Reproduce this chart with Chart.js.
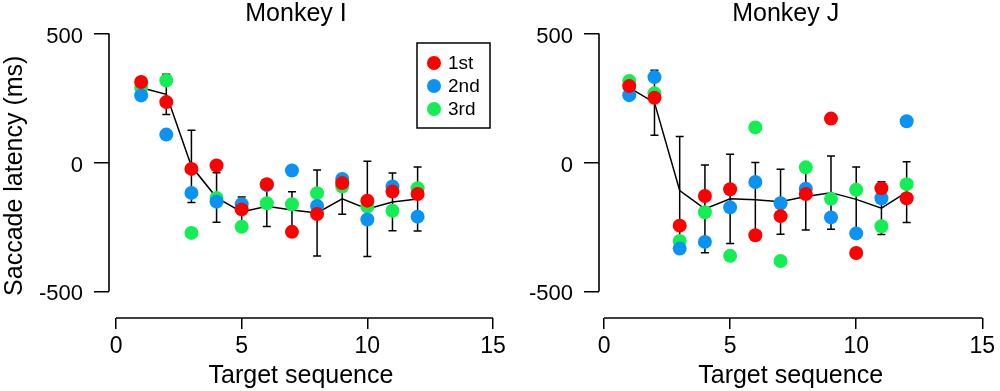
<!DOCTYPE html>
<html>
<head>
<meta charset="utf-8">
<script src="https://cdn.jsdelivr.net/npm/chart.js@4/dist/chart.umd.min.js"></script>
<style>
  html, body { margin: 0; padding: 0; background: #fff; }
  .panel { position: absolute; top: 0; height: 391px; }
</style>
</head>
<body>
<div class="panel" style="left:0;width:540px"><canvas id="cI" width="540" height="391"></canvas></div>
<div class="panel" style="left:500px;width:500px"><canvas id="cJ" width="500" height="391"></canvas></div>
<script>
/* Saccade latency by target sequence — two monkeys */
const seq = [1, 2, 3, 4, 5, 6, 7, 8, 9, 10, 11, 12];
const xTicks = [0, 5, 10, 15];
const yTicks = [500, 0, -500];
const seriesNames = ['1st', '2nd', '3rd'];
const seriesColors = ['#ff0000', '#0a93f5', '#14ee55'];

// Monkey I
const I_1st  = [312, 234, -25, -12, -182, -84, -269, -200, -80, -148, -113, -122];
const I_2nd  = [260, 108, -118, -152, -162, -88, -31, -169, -64, -221, -93, -210];
const I_3rd  = [290, 318, -273, -138, -249, -158, -162, -119, -93, -171, -187, -100];
const I_mean = [290, 264, -15, -136, -192, -170, -184, -196, -141, -180, -153, -142];
const I_err  = [0, 78, 140, 96, 58, 78, 70, 167, 60, 185, 112, 124];

// Monkey J
const J_1st  = [296, 251, -245, -130, -104, -282, -208, -122, 170, -351, -100, -139];
const J_2nd  = [261, 331, -334, -308, -174, -76, -158, -102, -213, -275, -139, 160];
const J_3rd  = [316, 268, -304, -193, -362, 136, -382, -19, -141, -106, -247, -84];
const J_mean = [290, 232, -109, -180, -141, -145, -152, -132, -117, -143, -177, -115];
const J_err  = [0, 126, 210, 170, 173, 145, 126, 130, 142, 125, 102, 118];

const FONT = 'Liberation Sans, Arial, Helvetica, sans-serif';

// error bars + free-floating axis lines (Igor style)
const extrasPlugin = {
  id: 'extras',
  beforeDatasetsDraw(chart, args, opts) {
    const { ctx, scales: { x, y } } = chart;
    ctx.save();
    ctx.strokeStyle = '#000';
    ctx.lineWidth = 1.5;
    opts.mean.forEach((m, i) => {
      const e = opts.err[i];
      if (!e) return;
      const px = x.getPixelForValue(seq[i]);
      const y1 = y.getPixelForValue(m + e), y2 = y.getPixelForValue(m - e);
      ctx.beginPath();
      ctx.moveTo(px, y1); ctx.lineTo(px, y2);
      ctx.moveTo(px - 4, y1); ctx.lineTo(px + 4, y1);
      ctx.moveTo(px - 4, y2); ctx.lineTo(px + 4, y2);
      ctx.stroke();
    });
    ctx.restore();
  },
  afterDraw(chart, args, opts) {
    const { ctx, chartArea: a, scales: { x, y } } = chart;
    ctx.save();
    ctx.strokeStyle = '#000';
    ctx.lineWidth = 1.6;
    ctx.beginPath();
    ctx.moveTo(a.left, y.getPixelForValue(yTicks[0]));
    ctx.lineTo(a.left, y.getPixelForValue(yTicks[yTicks.length - 1]));
    ctx.moveTo(x.getPixelForValue(xTicks[0]), a.bottom);
    ctx.lineTo(x.getPixelForValue(xTicks[xTicks.length - 1]), a.bottom);
    ctx.stroke();

    // panel title
    ctx.fillStyle = '#000';
    ctx.font = '25px ' + FONT;
    ctx.textAlign = 'center';
    ctx.textBaseline = 'alphabetic';
    ctx.fillText(opts.title, (a.left + a.right) / 2 - 5, 21);

    // legend box
    if (opts.legend) {
      const bx = 417, by = 43, bw = 73, bh = 85;
      ctx.lineWidth = 1.5;
      ctx.strokeRect(bx, by, bw, bh);
      ctx.font = '19px ' + FONT;
      ctx.textAlign = 'left';
      ctx.textBaseline = 'middle';
      seriesNames.forEach((n, i) => {
        const cy = by + 20 + i * 23;
        ctx.fillStyle = seriesColors[i];
        ctx.beginPath();
        ctx.arc(bx + 17, cy, 7, 0, Math.PI * 2);
        ctx.fill();
        ctx.fillStyle = '#000';
        ctx.fillText(n, bx + 31, cy + 1);
      });
    }
    ctx.restore();
  }
};

function pts(ys) { return seq.map((x, i) => ({ x, y: ys[i] })); }

function makePanel(id, title, series, mean, err, opt) {
  const datasets = series.map((ys, i) => ({
    type: 'scatter',
    label: seriesNames[i],
    data: pts(ys),
    backgroundColor: seriesColors[i],
    borderWidth: 0,
    pointRadius: 7,
    pointHoverRadius: 7,
  }));
  datasets.push({
    type: 'line',
    label: 'mean',
    data: pts(mean),
    borderColor: '#000',
    borderWidth: 1.5,
    pointRadius: 0,
    fill: false,
    tension: 0,
  });

  return new Chart(document.getElementById(id).getContext('2d'), {
    type: 'scatter',
    data: { datasets },
    plugins: [extrasPlugin],
    options: {
      responsive: false,
      animation: false,
      events: [],
      layout: { padding: { top: 33.5, right: opt.padRight, left: 0, bottom: 0 } },
      plugins: {
        legend: { display: false },
        tooltip: { enabled: false },
        extras: { title, mean, err, legend: opt.legend },
      },
      scales: {
        x: {
          type: 'linear',
          min: opt.xMin, max: 15,
          afterBuildTicks: s => { s.ticks = xTicks.map(v => ({ value: v })); },
          afterFit: s => { s.height = 73; s.paddingLeft = 0; s.paddingRight = 0; },
          grid: { drawOnChartArea: false, tickLength: 11, color: '#000', lineWidth: 1.5 },
          border: { display: false },
          ticks: { color: '#000', font: { family: FONT, size: 23 }, padding: 4, maxRotation: 0 },
          title: { display: true, text: 'Target sequence', color: '#000',
                   font: { family: FONT, size: 25 }, padding: { top: 0, bottom: 0 } },
        },
        y: {
          type: 'linear',
          min: -603, max: 500,
          afterBuildTicks: s => { s.ticks = yTicks.map(v => ({ value: v })); },
          afterFit: s => { s.width = opt.yWidth; s.paddingTop = 0; s.paddingBottom = 0; },
          grid: { drawOnChartArea: false, tickLength: 15, color: '#000', lineWidth: 1.5 },
          border: { display: false },
          ticks: { color: '#000', font: { family: FONT, size: 22 }, padding: 11, labelOffset: 3 },
          title: { display: opt.yTitle, text: 'Saccade latency (ms)', color: '#000',
                   font: { family: FONT, size: 25 }, padding: { top: 0, bottom: 0 } },
        },
      },
    },
  });
}

makePanel('cI', 'Monkey I', [I_1st, I_2nd, I_3rd], I_mean, I_err,
  { padRight: 47, xMin: -0.28, yWidth: 109, yTitle: true, legend: true });
makePanel('cJ', 'Monkey J', [J_1st, J_2nd, J_3rd], J_mean, J_err,
  { padRight: 17.7, xMin: -0.2, yWidth: 99, yTitle: false, legend: false });
</script>
</body>
</html>
